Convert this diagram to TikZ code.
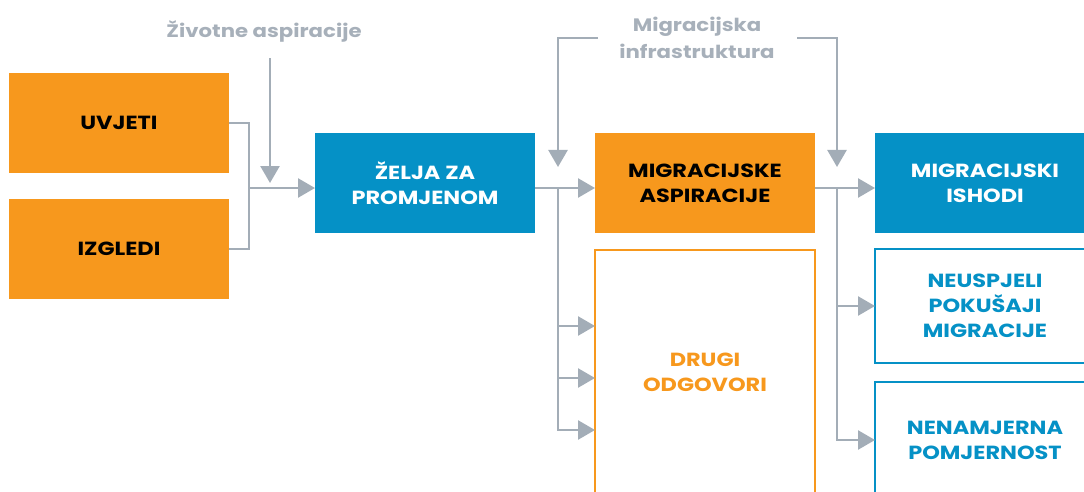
\documentclass[tikz,border=0pt]{standalone}
\usepackage{fontspec}
\setmainfont{Poppins}[FakeStretch=1.18]
\usetikzlibrary{arrows.meta, positioning, calc}
\definecolor{aspor}{HTML}{F7981D}
\definecolor{ishblue}{HTML}{0591C6}
\definecolor{linegray}{HTML}{A3ADB7}
\definecolor{labgray}{HTML}{A7B0BA}

\begin{document}
\begin{tikzpicture}[
    x=1pt, y=1pt,
    box/.style={rectangle, minimum width=220pt, minimum height=100pt, inner sep=0pt,
                outer sep=0pt, align=center, font=\bfseries\fontsize{19}{25}\selectfont},
    orbox/.style={box, fill=aspor, text=black},
    bluebox/.style={box, fill=ishblue, text=white},
    orline/.style={box, draw=aspor, line width=2pt, fill=white, text=aspor},
    blueline/.style={box, draw=ishblue, line width=2pt, fill=white, text=ishblue},
    lab/.style={font=\bfseries\fontsize{18}{27}\selectfont, text=labgray, align=center},
    conn/.style={draw=linegray, line width=2.5pt},
    arr/.style={conn, -{Triangle[length=17pt, width=19pt]}},
]
    \useasboundingbox (0,0) rectangle (1084,-492);

    % Left: conditions and prospects
    \node[orbox, anchor=north west] (uvjeti) at (9,-73) {UVJETI};
    \node[orbox, below=26pt of uvjeti] (izgledi) {IZGLEDI};

    % Main row
    \node[bluebox, anchor=north west] (zelja) at (315,-133) {ŽELJA ZA\\PROMJENOM};
    \node[orbox, right=60pt of zelja] (migasp) {MIGRACIJSKE\\ASPIRACIJE};
    \node[bluebox, right=60pt of migasp] (ishodi) {MIGRACIJSKI\\ISHODI};

    % Lower boxes
    \node[orline, minimum height=244pt, below=17pt of migasp] (drugi) {DRUGI\\ODGOVORI};
    \node[blueline, minimum height=114pt, below=16pt of ishodi] (neusp) {NEUSPJELI\\POKUŠAJI\\MIGRACIJE};
    \node[blueline, minimum height=116pt, below=19pt of neusp] (nenam) {NENAMJERNA\\POMJERNOST};

    % Labels
    \node[lab] (zivot) at (264,-31) {Životne aspiracije};
    \node[lab] (infra) at (697,-38) {Migracijska\\infrastruktura};

    % Junctions
    \coordinate (j1) at ($(uvjeti.east)+(20,0)$);
    \coordinate (zin) at ([yshift=-5pt]zelja.west);
    \coordinate (min) at ([yshift=-5pt]migasp.west);
    \coordinate (iin) at ([yshift=-5pt]ishodi.west);
    \coordinate (j2) at ($(zelja.east |- min)+(23,0)$);
    \coordinate (j3) at ($(migasp.east |- iin)+(22,0)$);
    \coordinate (ztip) at ($(j1 |- zelja.west)+(21,0)$);
    \coordinate (ltip) at ($(j2)+(0,21)$);
    \coordinate (rtip) at ($(j3)+(0,21)$);

    % Arrows
    \draw[conn] (uvjeti.east) -- (j1) |- (izgledi.east);
    \draw[arr] (j1 |- zin) -- (zin);
    \draw[arr, shorten <=13pt] (ztip |- zivot.south) -- (ztip);

    \draw[arr] (zelja.east |- min) -- (min);
    \draw[arr] (migasp.east |- iin) -- (iin);

    \draw[arr] ($(ltip |- infra.center)+(40,0)$) -| (ltip);
    \draw[arr] ($(rtip |- infra.center)+(-40,0)$) -| (rtip);

    \foreach \dy [count=\i] in {76,128,180}
        \coordinate (d\i) at ([yshift=-\dy pt]drugi.north west);
    \draw[arr] (j2) |- (d3);
    \draw[arr] (j2 |- d1) -- (d1);
    \draw[arr] (j2 |- d2) -- (d2);

    \draw[arr] (j3) |- (nenam.west);
    \draw[arr] (j3 |- neusp.west) -- (neusp.west);
\end{tikzpicture}
\end{document}
